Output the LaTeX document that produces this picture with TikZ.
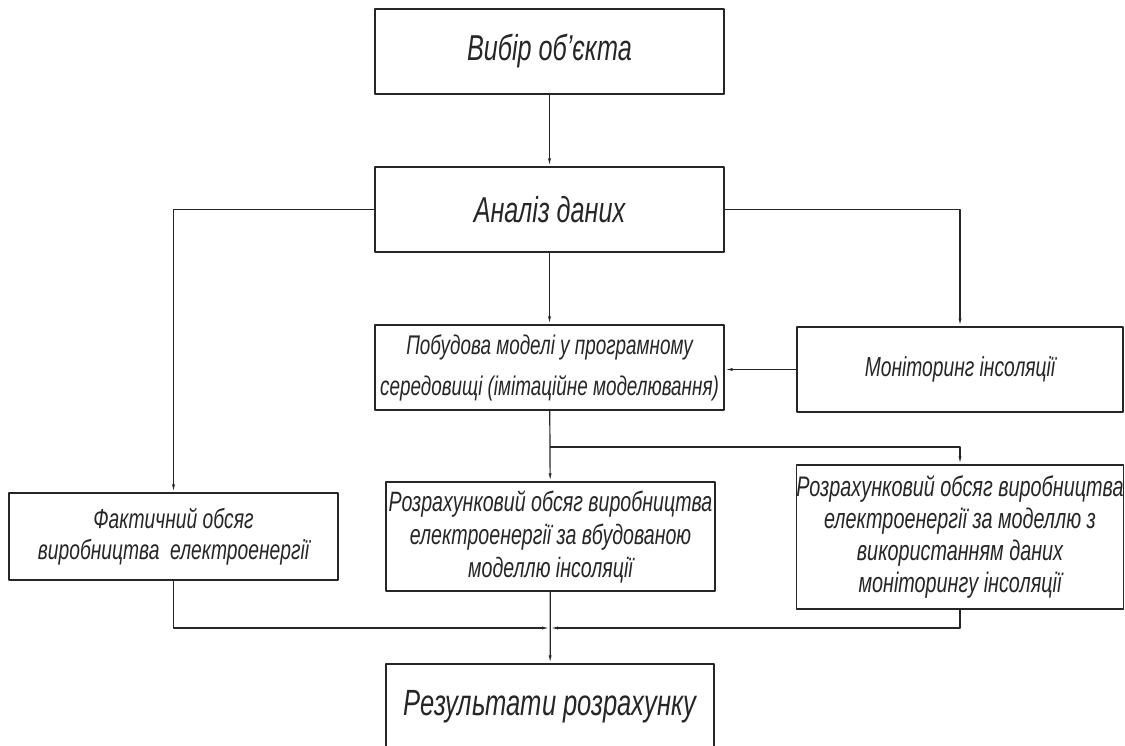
\documentclass[tikz,border=0pt]{standalone}
\usepackage{fontspec}
\newfontfamily\gostfont[FakeStretch=0.7]{Liberation Sans}
\usetikzlibrary{arrows.meta}

\begin{document}
\begin{tikzpicture}[>={Latex[length=8bp,width=3bp]},line join=bevel,black!85,
  blok/.style={draw,rectangle,inner sep=0pt,align=center},
  bigtxt/.style={font=\gostfont\itshape\fontsize{36bp}{40bp}\selectfont},
  pobtxt/.style={font=\gostfont\itshape\fontsize{27bp}{41bp}\selectfont},
  midtxt/.style={font=\gostfont\itshape\fontsize{27.5bp}{31bp}\selectfont},
  rozrtxt/.style={font=\gostfont\itshape\fontsize{28bp}{33bp}\selectfont},
  smalltxt/.style={font=\gostfont\itshape\fontsize{28.3bp}{32bp}\selectfont}]
  \pgfsetlinewidth{1.2bp}
  \useasboundingbox (0bp,0bp) rectangle (1125bp,746bp);
%%
  % Node: vybir
  \node[blok,bigtxt,minimum width=349bp,minimum height=85bp] (vybir) at (549.5bp,694.5bp) {Вибір об’єкта};
  % Node: analiz
  \node[blok,bigtxt,minimum width=349bp,minimum height=85bp] (analiz) at (549.5bp,536.5bp) {Аналіз даних};
  % Node: pobudova
  \node[blok,pobtxt,minimum width=349bp,minimum height=85bp] (pobudova) at (549.5bp,378.5bp) {Побудова моделі у програмному\\середовищі (імітаційне моделювання)};
  % Node: monitoring
  \node[blok,midtxt,minimum width=326bp,minimum height=85bp] (monitoring) at (960bp,376.5bp) {Моніторинг інсоляції};
  % Node: faktychnyi
  \node[blok,midtxt,minimum width=329bp,minimum height=87bp] (faktychnyi) at (173.5bp,209.5bp) {Фактичний обсяг\\виробництва\ \ електроенергії};
  % Node: rozrah1
  \node[blok,rozrtxt,minimum width=329bp,minimum height=109bp] (rozrah1) at (550.5bp,209.5bp) {Розрахунковий обсяг виробництва\\електроенергії за вбудованою\\моделлю інсоляції};
  % Node: rozrah2
  \node[blok,smalltxt,minimum width=326bp,minimum height=144bp] (rozrah2) at (960bp,209bp) {Розрахунковий обсяг виробництва\\електроенергії за моделлю з\\використанням даних\\моніторингу інсоляції};
  % Node: rezultat
  \node[blok,font=\gostfont\itshape\fontsize{36.5bp}{40bp}\selectfont,minimum width=328bp,minimum height=85bp] (rezultat) at (550bp,39.5bp) {Результати розрахунку};
%%
  \coordinate (rozgal) at (549.5bp,299bp);
  \coordinate (zliv) at (550bp,118bp);
  % Edge: vybir -> analiz
  \draw [->] (vybir) -- (analiz);
  % Edge: analiz -> faktychnyi
  \draw [->] (analiz.west) -| (faktychnyi.north);
  % Edge: analiz -> monitoring
  \draw [->] (analiz.east) -| (monitoring.north);
  % Edge: analiz -> pobudova
  \draw [->] (analiz) -- (pobudova);
  % Edge: monitoring -> pobudova
  \draw [->] (monitoring.west) -- (monitoring.west -| pobudova.east);
  % Edge: pobudova -> rozrah1
  \draw [->] (pobudova) -- (rozrah1);
  % Edge: pobudova -> rozrah2
  \draw [->] (rozgal) -| (rozrah2.north);
  % Edge: faktychnyi -> rezultat
  \draw [->] (faktychnyi.south) |- (zliv);
  % Edge: rozrah2 -> rezultat
  \draw [->] (rozrah2.south) |- (zliv);
  % Edge: rozrah1 -> rezultat
  \draw [->] (rozrah1) -- (rezultat);
%
\end{tikzpicture}
\end{document}
